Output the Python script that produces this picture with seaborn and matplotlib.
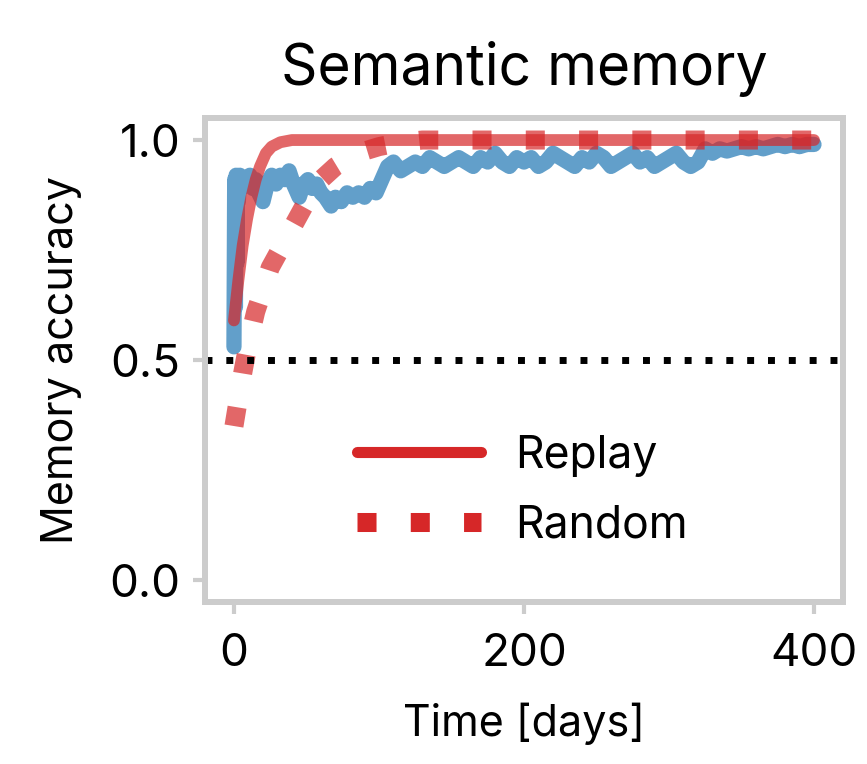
import numpy as np
import pandas as pd
import seaborn as sns
import matplotlib.pyplot as plt
from matplotlib.lines import Line2D

# ---- data ----
replay_days = [0, 3, 6, 9, 12, 15, 18, 22, 26, 32, 40, 100, 200, 300, 400]
replay_acc = [0.59, 0.68, 0.76, 0.82, 0.87, 0.91, 0.94, 0.97, 0.985, 0.995, 1.0, 1.0, 1.0, 1.0, 1.0]

random_days = [0, 3, 6, 10, 15, 20, 25, 30, 40, 50, 60, 70, 80, 90, 100, 115, 130, 200, 300, 400]
random_acc = [0.35, 0.41, 0.47, 0.54, 0.61, 0.66, 0.71, 0.74, 0.80, 0.86, 0.91, 0.94, 0.96,
              0.975, 0.985, 0.995, 1.0, 1.0, 1.0, 1.0]

sem_days = [0, 0.5, 1, 1.5, 2, 2.5, 3, 4, 5, 7, 9, 11, 13, 15, 17, 20, 23, 26, 29, 32, 35, 38,
            41, 45, 48, 51, 54, 57, 60, 63, 67, 70, 74, 78, 82, 86, 90, 94, 98, 102, 106, 110,
            115, 120, 125, 130, 135, 140, 145, 150, 155, 160, 165, 170, 175, 180, 185, 190, 195,
            200, 205, 210, 215, 220, 225, 230, 235, 240, 245, 250, 255, 260, 265, 270, 275, 280,
            285, 290, 295, 300, 305, 310, 315, 320, 325, 330, 335, 340, 345, 350, 355, 360, 365,
            370, 375, 380, 385, 390, 395, 400]
sem_acc = [0.53, 0.91, 0.62, 0.92, 0.72, 0.90, 0.86, 0.92, 0.89, 0.91, 0.90, 0.92, 0.89, 0.91,
           0.88, 0.86, 0.90, 0.92, 0.90, 0.92, 0.91, 0.93, 0.90, 0.87, 0.90, 0.91, 0.89, 0.90,
           0.88, 0.87, 0.85, 0.87, 0.86, 0.88, 0.87, 0.88, 0.87, 0.89, 0.88, 0.91, 0.94, 0.95,
           0.93, 0.94, 0.95, 0.94, 0.96, 0.95, 0.94, 0.95, 0.96, 0.95, 0.94, 0.96, 0.95, 0.97,
           0.95, 0.94, 0.96, 0.95, 0.96, 0.94, 0.95, 0.97, 0.96, 0.95, 0.94, 0.96, 0.95, 0.97,
           0.96, 0.94, 0.95, 0.96, 0.97, 0.95, 0.96, 0.94, 0.95, 0.96, 0.97, 0.95, 0.94, 0.95,
           0.98, 0.97, 0.98, 0.975, 0.98, 0.985, 0.98, 0.985, 0.98, 0.985, 0.99, 0.985, 0.99,
           0.985, 0.99, 0.99]

replay = pd.DataFrame({"day": replay_days, "acc": replay_acc})
rand = pd.DataFrame({"day": random_days, "acc": random_acc})
sem = pd.DataFrame({"day": sem_days, "acc": sem_acc})

# ---- style ----
sns.set_style("ticks")
plt.rcParams["font.family"] = ["Inter", "DejaVu Sans"]
plt.rcParams["text.color"] = "black"
plt.rcParams["axes.labelcolor"] = "black"

RED = "#d62728"
BLUE = "#1f77b4"
GREY = "#cccccc"

fig = plt.figure(figsize=(8.67, 7.64), dpi=100)
ax = fig.add_axes([0.2364, 0.2120, 0.7359, 0.6335])

sns.lineplot(data=sem, x="day", y="acc", color=BLUE, alpha=0.7, lw=11,
             solid_capstyle="round", solid_joinstyle="round", ax=ax)
sns.lineplot(data=replay, x="day", y="acc", color=RED, alpha=0.7, lw=8.5,
             solid_capstyle="round", ax=ax)
sns.lineplot(data=rand, x="day", y="acc", color=RED, alpha=0.7, lw=13.7,
             dashes=False, ax=ax)
ax.lines[-1].set_dashes((1, 1.8))
ax.axhline(0.5, color="black", lw=5, dashes=(1, 2))

ax.set_xlim(-20, 420)
ax.set_ylim(-0.05, 1.05)
ax.set_xticks([0, 200, 400])
ax.set_yticks([0.0, 0.5, 1.0])
ax.set_yticklabels(["0.0", "0.5", "1.0"])

for s in ax.spines.values():
    s.set_color(GREY)
    s.set_linewidth(4.3)
    s.set_visible(True)
ax.tick_params(axis="both", colors=GREY, labelcolor="black", labelsize=33,
               length=8.5, width=3)
ax.tick_params(axis="x", pad=14)
ax.tick_params(axis="y", pad=9)

ax.set_xlabel("Time [days]", fontsize=31, labelpad=20)
ax.set_ylabel("Memory accuracy", fontsize=31, labelpad=20)
ax.set_title("Semantic memory", fontsize=41, pad=24)

handles = [Line2D([], [], color=RED, lw=8, solid_capstyle="round"),
           Line2D([], [], color=RED, lw=13.7, dashes=(1, 1.8))]
ax.legend(handles, ["Replay", "Random"], loc="center", bbox_to_anchor=(0.497, 0.23),
          frameon=False, fontsize=32, handlelength=2.8, handletextpad=0.75,
          labelspacing=0.62)

fig.savefig("out.png", dpi=100)
